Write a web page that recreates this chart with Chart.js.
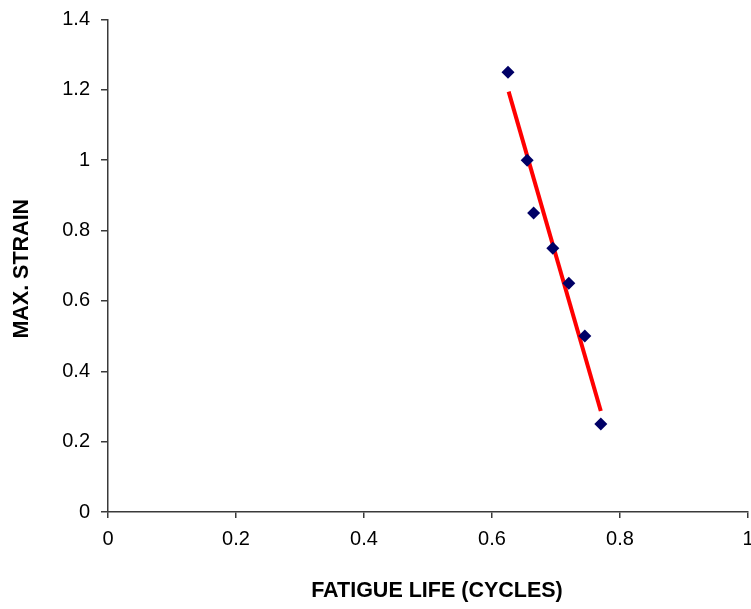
<!DOCTYPE html>
<html>
<head>
<meta charset="utf-8">
<script src="https://cdn.jsdelivr.net/npm/chart.js@4/dist/chart.umd.min.js"></script>
<style>
  html, body { margin: 0; padding: 0; background: #ffffff; overflow: hidden; }
  #wrap { width: 751px; height: 609px; position: relative; }
</style>
</head>
<body>
<div id="wrap"><canvas id="chart"></canvas></div>
<script>
// Measured specimens: fatigue life vs. maximum strain
const fatigueLife = [0.625, 0.655, 0.665, 0.695, 0.72, 0.745, 0.77];
const maxStrain   = [1.25, 1.0, 0.85, 0.75, 0.65, 0.5, 0.25];

// Linear trend line end points
const trendLife   = [0.626, 0.770];
const trendStrain = [1.195, 0.287];

// Axis tick values
const xTicks = [0, 0.2, 0.4, 0.6, 0.8, 1];
const yTicks = [0, 0.2, 0.4, 0.6, 0.8, 1, 1.2, 1.4];

const FONT = "'Liberation Sans', Arial, sans-serif";
const AXIS_COLOR = '#3a3a3a';

const points = fatigueLife.map((x, i) => ({ x, y: maxStrain[i] }));
const trend = trendLife.map((x, i) => ({ x, y: trendStrain[i] }));

const fmt = v => String(Number(v.toFixed(1)));

new Chart(document.getElementById('chart'), {
  type: 'scatter',
  data: {
    datasets: [
      {
        label: 'Trend',
        data: trend,
        showLine: true,
        borderColor: '#ff0000',
        borderWidth: 4,
        pointRadius: 0,
        fill: false,
        order: 2
      },
      {
        label: 'Max. strain',
        data: points,
        pointStyle: 'rectRot',
        pointRadius: 6.5,
        backgroundColor: '#000066',
        borderColor: '#000066',
        borderWidth: 0,
        order: 1
      }
    ]
  },
  options: {
    responsive: true,
    maintainAspectRatio: false,
    animation: false,
    events: [],
    layout: { autoPadding: false, padding: { top: 19.5, right: 3, bottom: 0, left: 0 } },
    plugins: { legend: { display: false }, tooltip: { enabled: false } },
    scales: {
      x: {
        type: 'linear',
        min: 0,
        max: 1,
        afterBuildTicks: s => { s.ticks = xTicks.map(v => ({ value: v })); },
        afterFit: s => { s.height = 97; s.paddingLeft = 0; s.paddingRight = 0; },
        border: { display: true, color: AXIS_COLOR, width: 1.5 },
        grid: { display: true, drawOnChartArea: false, drawTicks: true, tickLength: 6, color: AXIS_COLOR, lineWidth: 1.5 },
        ticks: {
          color: '#000000',
          font: { family: FONT, size: 20 },
          padding: 9,
          maxRotation: 0,
          autoSkip: false,
          callback: v => fmt(v)
        },
        title: {
          display: true,
          text: '   FATIGUE LIFE (CYCLES)',
          color: '#000000',
          font: { family: FONT, size: 21.5, weight: 'bold' },
          padding: 5
        }
      },
      y: {
        type: 'linear',
        min: 0,
        max: 1.4,
        afterBuildTicks: s => { s.ticks = yTicks.map(v => ({ value: v })); },
        afterFit: s => { s.width = 108; s.paddingTop = 0; s.paddingBottom = 0; },
        border: { display: true, color: AXIS_COLOR, width: 1.5 },
        grid: { display: true, drawOnChartArea: false, drawTicks: true, tickLength: 7, color: AXIS_COLOR, lineWidth: 1.5 },
        ticks: {
          color: '#000000',
          font: { family: FONT, size: 20 },
          padding: 11,
          autoSkip: false,
          callback: v => fmt(v)
        },
        title: {
          display: true,
          text: 'MAX. STRAIN ',
          color: '#000000',
          font: { family: FONT, size: 21.5, weight: 'bold' },
          padding: 9
        }
      }
    }
  }
});
</script>
</body>
</html>
